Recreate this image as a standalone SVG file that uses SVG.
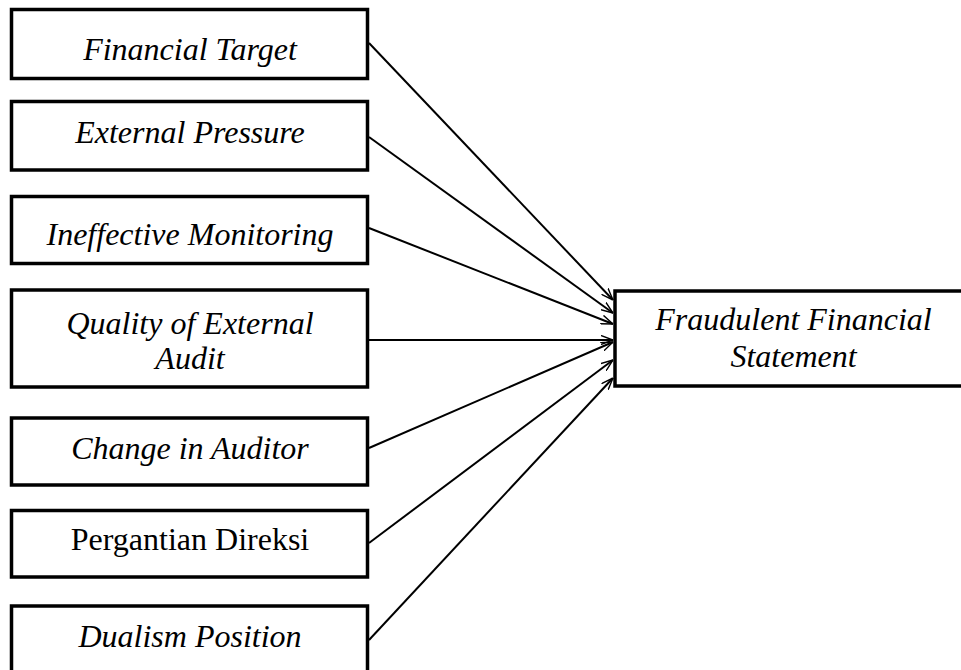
<svg xmlns="http://www.w3.org/2000/svg" width="961" height="670" viewBox="0 0 961 670">
<style>
.box{fill:#fff;stroke:#000;stroke-width:3.5}
.t{font-family:"Liberation Serif","Times New Roman",serif;font-size:32px;font-style:italic;text-anchor:middle;fill:#000}
.n{font-style:normal}
.c{fill:none;stroke:#000;stroke-width:2}
</style>
<defs>
<marker id="arr" viewBox="0 0 12 10" refX="12" refY="5" markerWidth="12" markerHeight="10" orient="auto" markerUnits="userSpaceOnUse">
<path d="M0,0.5 L12,5 L0,9.5" fill="none" stroke="#000" stroke-width="1.4"/>
</marker>
</defs>
<rect width="961" height="670" fill="#fff"/>
<g id="connectors">
<line class="c" x1="369" y1="43" x2="613" y2="300" stroke-width="1" marker-end="url(#arr)"/>
<line class="c" x1="369" y1="137" x2="613" y2="313" marker-end="url(#arr)"/>
<line class="c" x1="369" y1="228" x2="613" y2="324" marker-end="url(#arr)"/>
<line class="c" x1="369" y1="340" x2="613" y2="340" marker-end="url(#arr)"/>
<line class="c" x1="369" y1="448" x2="613" y2="342" marker-end="url(#arr)"/>
<line class="c" x1="369" y1="543" x2="613" y2="360" marker-end="url(#arr)"/>
<line class="c" x1="369" y1="640" x2="613" y2="378" marker-end="url(#arr)"/>
</g>
<g id="financial-target">
<rect class="box" x="11.5" y="9.5" width="356" height="69"/>
<text class="t" x="190" y="60">Financial Target</text>
</g>
<g id="external-pressure">
<rect class="box" x="11.5" y="101.5" width="356" height="68.5"/>
<text class="t" x="190" y="143">External Pressure</text>
</g>
<g id="ineffective-monitoring">
<rect class="box" x="11.5" y="196.5" width="356" height="67"/>
<text class="t" x="190" y="245">Ineffective Monitoring</text>
</g>
<g id="quality-external-audit">
<rect class="box" x="11.5" y="290" width="356" height="97"/>
<text class="t" x="190" y="334">Quality of External</text>
<text class="t" x="190" y="369">Audit</text>
</g>
<g id="change-in-auditor">
<rect class="box" x="11.5" y="418" width="356" height="67"/>
<text class="t" x="190" y="459">Change in Auditor</text>
</g>
<g id="pergantian-direksi">
<rect class="box" x="11.5" y="510.5" width="356" height="66.5"/>
<text class="t n" x="190" y="550">Pergantian Direksi</text>
</g>
<g id="dualism-position">
<rect class="box" x="11.5" y="606" width="356" height="70"/>
<text class="t" x="190" y="647">Dualism Position</text>
</g>
<g id="fraudulent-financial-statement">
<rect class="box" x="615" y="291" width="360" height="95"/>
<text class="t" x="793.5" y="330">Fraudulent Financial</text>
<text class="t" x="793.5" y="367">Statement</text>
</g>
</svg>
